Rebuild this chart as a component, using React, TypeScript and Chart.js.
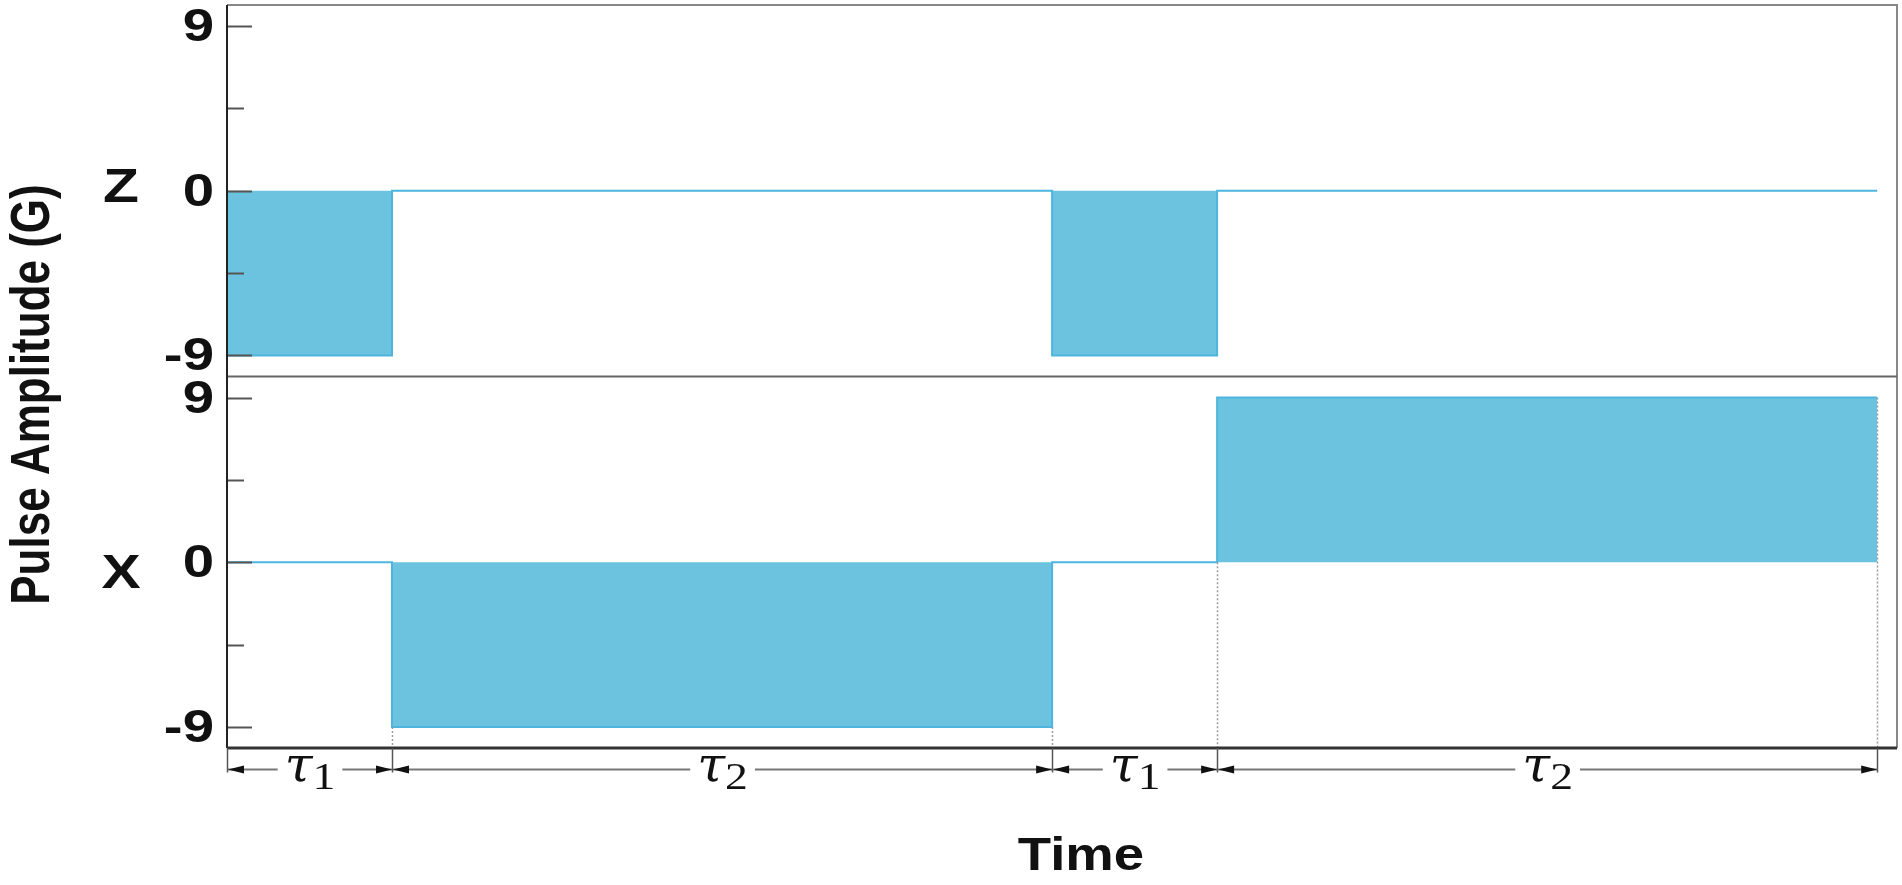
import React, { useEffect, useRef } from 'react';
import { Chart, registerables } from 'chart.js';

Chart.register(...registerables);

// ---- data ----
const times = [0, 1, 5, 6, 10];
const zPulse = [-9, 0, -9, 0, 0];
const xPulse = [0, -9, 0, 9, 9];
const yTickValues = [-9, -4.5, 0, 4.5, 9];
const yTickLabels = ['-9', '', '0', '', '9'];
const panelLabels = ['Z', 'X'];
const segmentSymbol = 'τ';
const segmentSubs = ['1', '2', '1', '2'];
const yTitle = 'Pulse Amplitude (G)';
const xTitle = 'Time';

const FILL = '#6CC3E0';
const LINE = '#4DB5DE';
const K = 1.2; // horizontal stretch of text

function drawText(ctx: CanvasRenderingContext2D, text: string, x: number, y: number, font: string, align: CanvasTextAlign, k = K, color = '#111') {
  ctx.save();
  ctx.translate(x, y);
  ctx.scale(k, 1);
  ctx.font = font;
  ctx.textAlign = align;
  ctx.textBaseline = 'alphabetic';
  ctx.fillStyle = color;
  ctx.fillText(text, 0, 0);
  ctx.restore();
}

const decorPlugin = {
  id: 'decor',
  afterDatasetsDraw(chart: any) {
    const ctx: CanvasRenderingContext2D = chart.ctx;
    const xs = chart.scales.x;
    const yZ = chart.scales.yZ;
    const yX = chart.scales.yX;
    const area = chart.chartArea;
    ctx.save();

    // dotted extension lines inside lower panel
    ctx.strokeStyle = '#9a9a9a';
    ctx.lineWidth = 1.5;
    ctx.setLineDash([2, 2]);
    for (let i = 1; i < times.length; i++) {
      const px = Math.round(xs.getPixelForValue(times[i])) + 0.5;
      const v = Math.min(xPulse[i - 1], i < xPulse.length - 1 ? xPulse[i] : xPulse[i - 1]);
      ctx.beginPath();
      ctx.moveTo(px, yX.getPixelForValue(v));
      ctx.lineTo(px, yX.bottom);
      ctx.stroke();
    }
    ctx.setLineDash([]);

    // tick marks (inside)
    [yZ, yX].forEach((s: any) => {
      yTickValues.forEach((v, i) => {
        const py = Math.round(s.getPixelForValue(v)) + 0.5;
        const len = yTickLabels[i] ? 25 : 17;
        ctx.strokeStyle = '#555';
        ctx.lineWidth = 2;
        ctx.beginPath();
        ctx.moveTo(area.left, py);
        ctx.lineTo(area.left + len, py);
        ctx.stroke();
      });
    });

    // borders
    ctx.strokeStyle = '#888';
    ctx.lineWidth = 2;
    ctx.beginPath();
    ctx.moveTo(area.left, area.top);
    ctx.lineTo(area.right, area.top);
    ctx.lineTo(area.right, area.bottom);
    ctx.stroke();
    ctx.strokeStyle = '#666';
    ctx.beginPath();
    ctx.moveTo(area.left, yZ.bottom);
    ctx.lineTo(area.right, yZ.bottom);
    ctx.stroke();
    ctx.strokeStyle = '#222';
    ctx.beginPath();
    ctx.moveTo(area.left, area.top);
    ctx.lineTo(area.left, area.bottom);
    ctx.stroke();
    ctx.strokeStyle = '#333';
    ctx.lineWidth = 3;
    ctx.beginPath();
    ctx.moveTo(area.left, area.bottom);
    ctx.lineTo(area.right, area.bottom);
    ctx.stroke();

    // tick labels
    [yZ, yX].forEach((s: any) => {
      yTickValues.forEach((v, i) => {
        if (!yTickLabels[i]) return;
        const py = s.getPixelForValue(v);
        drawText(ctx, yTickLabels[i], 214, py + 15, 'bold 47px "Liberation Sans"', 'right');
      });
    });

    // panel labels
    drawText(ctx, panelLabels[0], 121, yZ.getPixelForValue(0) + 11, 'bold 49px "Liberation Sans"', 'center');
    drawText(ctx, panelLabels[1], 121, yX.getPixelForValue(0) + 26, 'bold 49px "Liberation Sans"', 'center');

    // y title (rotated)
    ctx.save();
    ctx.translate(49, (yZ.top + yX.bottom) / 2 + 18);
    ctx.scale(1.25, 1);
    ctx.rotate(-Math.PI / 2);
    ctx.font = 'bold 44px "Liberation Sans"';
    ctx.textAlign = 'center';
    ctx.textBaseline = 'alphabetic';
    ctx.fillStyle = '#111';
    ctx.fillText(yTitle, 0, 0);
    ctx.restore();

    // x title
    drawText(ctx, xTitle, 1081, 870, 'bold 47px "Liberation Sans"', 'center', 1.16);

    // dimension lines
    const arrowY = area.bottom + 21.5;
    ctx.strokeStyle = '#555';
    ctx.lineWidth = 1.5;
    times.forEach((t) => {
      const px = Math.round(xs.getPixelForValue(t)) + 0.5;
      ctx.beginPath();
      ctx.moveTo(px, area.bottom);
      ctx.lineTo(px, arrowY + 3);
      ctx.stroke();
    });
    const tauFont = 'italic 48px "DejaVu Serif"';
    const subFont = '38px "Liberation Serif"';
    for (let i = 0; i < times.length - 1; i++) {
      const x0 = xs.getPixelForValue(times[i]) + 1;
      const x1 = xs.getPixelForValue(times[i + 1]);
      const cx = (x0 + x1) / 2;
      ctx.font = tauFont;
      const wT = ctx.measureText(segmentSymbol).width * 1.05;
      ctx.font = subFont;
      const wS = ctx.measureText(segmentSubs[i]).width * K;
      const total = wT + wS;
      const start = cx - total / 2;
      drawText(ctx, segmentSymbol, start, arrowY + 11, tauFont, 'left', 1.05);
      drawText(ctx, segmentSubs[i], start + wT, arrowY + 19, subFont, 'left');
      // lines
      ctx.strokeStyle = '#777';
      ctx.lineWidth = 2;
      ctx.beginPath();
      ctx.moveTo(x0, arrowY);
      ctx.lineTo(start - 7, arrowY);
      ctx.moveTo(start + total + 7, arrowY);
      ctx.lineTo(x1, arrowY);
      ctx.stroke();
      // arrowheads
      ctx.fillStyle = '#111';
      ctx.beginPath();
      ctx.moveTo(x0, arrowY);
      ctx.lineTo(x0 + 16, arrowY - 4);
      ctx.lineTo(x0 + 16, arrowY + 4);
      ctx.closePath();
      ctx.fill();
      ctx.beginPath();
      ctx.moveTo(x1, arrowY);
      ctx.lineTo(x1 - 16, arrowY - 4);
      ctx.lineTo(x1 - 16, arrowY + 4);
      ctx.closePath();
      ctx.fill();
    }
    ctx.restore();
  },
};

export default function App() {
  const ref = useRef<HTMLCanvasElement | null>(null);
  useEffect(() => {
    if (!ref.current) return;
    const yBase = (w: number) => ({
      type: 'linear' as const,
      position: 'left' as const,
      stack: 'pulse',
      stackWeight: 1,
      weight: w,
      min: -10.15,
      max: 10.15,
      display: false,
      afterBuildTicks: (s: any) => {
        s.ticks = yTickValues.map((v) => ({ value: v }));
      },
    });
    const chart = new Chart(ref.current, {
      type: 'line',
      data: {
        datasets: [
          {
            label: panelLabels[0],
            data: times.map((t, i) => ({ x: t, y: zPulse[i] })),
            yAxisID: 'yZ',
            stepped: true,
            borderColor: LINE,
            borderWidth: 2,
            backgroundColor: FILL,
            fill: { value: 0 },
            pointRadius: 0,
          },
          {
            label: panelLabels[1],
            data: times.map((t, i) => ({ x: t, y: xPulse[i] })),
            yAxisID: 'yX',
            stepped: true,
            borderColor: LINE,
            borderWidth: 2,
            backgroundColor: FILL,
            fill: { value: 0 },
            pointRadius: 0,
          },
        ],
      },
      options: {
        animation: false,
        responsive: false,
        maintainAspectRatio: false,
        layout: { padding: { left: 227, right: 5, top: 5, bottom: 137 } },
        plugins: { legend: { display: false }, tooltip: { enabled: false } },
        scales: {
          x: { type: 'linear', min: 0, max: 10.12, display: false },
          yX: yBase(1),
          yZ: yBase(2),
        },
      } as any,
      plugins: [decorPlugin],
    });
    return () => chart.destroy();
  }, []);
  return (
    <div style={{ position: 'fixed', left: 0, top: 0, width: 1902, height: 885, background: '#fff' }}>
      <canvas ref={ref} width={1902} height={885} style={{ display: 'block' }} />
    </div>
  );
}
